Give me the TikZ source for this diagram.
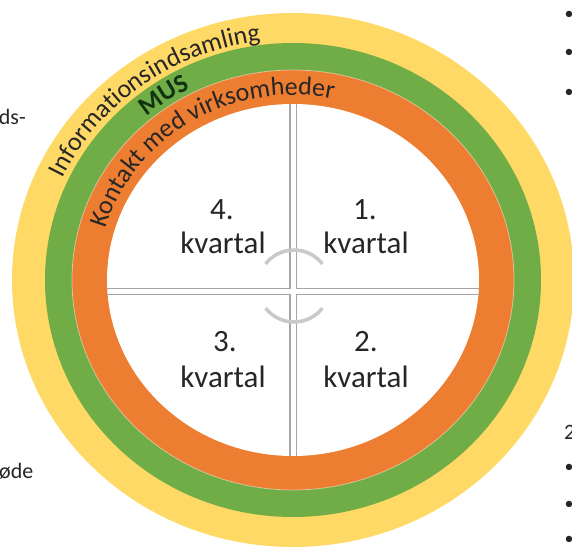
\documentclass[tikz,border=0pt]{standalone}
\usepackage{fontspec}
\setmainfont{Carlito}
\usetikzlibrary{decorations.text}
\definecolor{bandyellow}{HTML}{FFD966}
\definecolor{bandgreen}{HTML}{70AD47}
\definecolor{bandorange}{HTML}{ED7D31}
\definecolor{txt}{HTML}{262626}
\definecolor{musgreen}{HTML}{123312}
\definecolor{crossgray}{HTML}{A6A6A6}
\definecolor{arcgray}{HTML}{C9C9C9}
\newcommand\bandfont{\fontsize{26}{30}\selectfont}
\newcommand\musfont{\bfseries\fontsize{26}{30}\selectfont}
\begin{document}
\begin{tikzpicture}[x=1pt,y=1pt,
 quarter/.style={font=\fontsize{31}{36}\selectfont, text=txt, anchor=base, inner sep=0pt},
 sidetext/.style={font=\fontsize{22}{26}\selectfont, text=txt, inner sep=0pt},
 bullettext/.style={font=\fontsize{18}{22}\selectfont, text=txt, inner sep=0pt},
 crossouter/.style={draw=crossgray, line width=7.5pt},
 crossinner/.style={draw=white, line width=5pt},
 cyclearc/.style={draw=arcgray, line width=3.5pt},
 bandedge/.style={draw=white, draw opacity=0.5, line width=0.7pt},
]
\useasboundingbox (0,0) rectangle (572,549);
\coordinate (c) at (293,269);
\fill[bandyellow] (c) ellipse[x radius=281pt, y radius=267pt];
\fill[bandgreen] (c) ellipse[x radius=248pt, y radius=237pt];
\fill[bandorange] (c) ellipse[x radius=221pt, y radius=210pt];
\draw[bandedge] (c) ellipse[x radius=221pt, y radius=210pt];
\fill[white] (c) ellipse[x radius=186pt, y radius=176pt];
% cross
\begin{scope}
\clip (c) ellipse[x radius=186pt, y radius=176pt];
\coordinate (vt) at (293,470);
\coordinate (vb) at (293,70);
\coordinate (hl) at (95,257.5);
\coordinate (hr) at (495,257.5);
\draw[crossouter] (vt) -- (vb) (hl) -- (hr);
\draw[crossinner] (vt) -- (vb) (hl) -- (hr);
\end{scope}
% cycle arcs
\coordinate (ac) at (294,263);
\draw[cyclearc] (ac) ++(38:36pt) arc[start angle=38, end angle=142, radius=36pt];
\draw[cyclearc] (ac) ++(218:36pt) arc[start angle=218, end angle=322, radius=36pt];
% quarter labels
\node[quarter] (q4a) at (222,329) {4.};
\node[quarter] (q4b) at (223,295) {kvartal};
\node[quarter] (q1a) at (365,329) {1.};
\node[quarter] (q1b) at (366,295) {kvartal};
\node[quarter] (q3a) at (225,197) {3.};
\node[quarter] (q3b) at (223,162) {kvartal};
\node[quarter] (q2a) at (366,197) {2.};
\node[quarter] (q2b) at (366,162) {kvartal};
% curved band labels
\path[decorate, decoration={text along path, text={|\bandfont|Informationsindsamling}, text align=left, text color=txt}]
  (c) ++(155:254pt and 241pt) arc[start angle=155, end angle=30, x radius=254pt, y radius=241pt];
\path[decorate, decoration={text along path, text={|\musfont|MUS}, text align=left, text color=musgreen}]
  (c) ++(130.5:226pt and 215pt) arc[start angle=130.5, end angle=60, x radius=226pt, y radius=215pt];
\path[decorate, decoration={text along path, text={|\bandfont|Kontakt med virksomheder}, text align=left, text color=txt}]
  (c) ++(164:195pt and 185pt) arc[start angle=164, end angle=20, x radius=195pt, y radius=185pt];
% cut-off side texts
\node[sidetext, anchor=base east] (lt1) at (26,424) {ds-};
\node[sidetext, anchor=base west] (lt2) at (-1,71) {øde};
\node[bullettext] (b1) at (569,534) {•};
\node[bullettext] (b2) at (569,496) {•};
\node[bullettext] (b3) at (569,456) {•};
\node[sidetext, anchor=base west] (r2) at (564,110) {2};
\node[bullettext] (b4) at (569,81) {•};
\node[bullettext] (b5) at (569,44) {•};
\node[bullettext] (b6) at (569,9) {•};
\end{tikzpicture}
\end{document}
